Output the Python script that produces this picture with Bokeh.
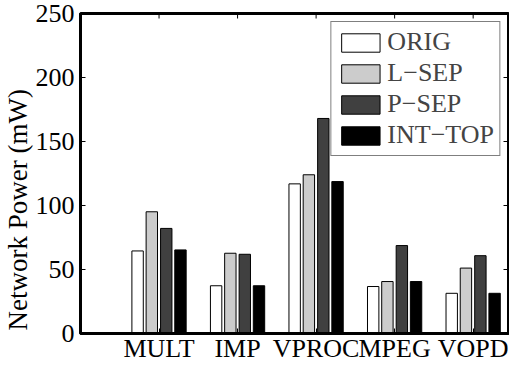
from math import pi
from bokeh.plotting import figure
from bokeh.models import (ColumnDataSource, FixedTicker, Range1d, Legend, LegendItem, Title)
from bokeh.transform import dodge
from bokeh.embed import file_html
from bokeh.resources import INLINE

categories = ["MULT", "IMP", "VPROC", "MPEG", "VOPD"]
orig    = [64.5, 37.3, 116.9, 36.7, 31.4]
l_sep   = [95.1, 62.7, 124.0, 40.6, 51.1]
p_sep   = [82.1, 61.9, 168.0, 68.7, 60.8]
int_top = [65.3, 37.3, 118.7, 40.6, 31.4]
series_names = ["ORIG", "L\u2212SEP", "P\u2212SEP", "INT\u2212TOP"]
series_colors = ["#ffffff", "#cccccc", "#404040", "#000000"]
y_ticks = [0, 50, 100, 150, 200, 250]
x_end = 5.45

FONT = "Liberation Serif"
FS = "26px"

idx = list(range(1, len(categories) + 1))
src = ColumnDataSource(dict(x=idx, orig=orig, l_sep=l_sep, p_sep=p_sep, int_top=int_top))

p = figure(width=509, height=366, output_backend="svg", toolbar_location=None,
           x_range=Range1d(0, x_end), y_range=Range1d(y_ticks[0], y_ticks[-1]),
           min_border_left=79, min_border_right=1, min_border_top=13, min_border_bottom=33)
p.background_fill_color = "white"
p.border_fill_color = "white"
p.grid.visible = False
p.outline_line_color = "black"
p.outline_line_width = 3

offsets = [-0.273, -0.092, 0.092, 0.273]
cols = ["orig", "l_sep", "p_sep", "int_top"]
items = []
for off, col, name, color in zip(offsets, cols, series_names, series_colors):
    r = p.vbar(x=dodge("x", off), top=col, width=0.145, bottom=0, source=src,
               fill_color=color, line_color="black", line_width=1)
    items.append(LegendItem(label=name, renderers=[r]))

# inward tick marks on the top and right edges of the box
p.ray(x=idx, y=[y_ticks[-1]] * len(idx), length=5, length_units="screen",
      angle=-pi / 2, line_color="black", line_width=1)
p.ray(x=[x_end] * len(y_ticks), y=y_ticks, length=5, length_units="screen",
      angle=pi, line_color="black", line_width=1)

for ax in (p.xaxis[0], p.yaxis[0]):
    ax.axis_line_width = 3
    ax.axis_line_color = "black"
    ax.major_tick_in = 5
    ax.major_tick_out = 0
    ax.minor_tick_line_color = None
    ax.major_tick_line_color = "black"
    ax.major_tick_line_width = 1
    ax.major_label_text_font = FONT
    ax.major_label_text_font_size = FS
    ax.major_label_text_color = "black"

p.xaxis[0].ticker = FixedTicker(ticks=idx)
p.xaxis[0].major_label_overrides = {i: c for i, c in zip(idx, categories)}
p.xaxis[0].major_label_standoff = 0
p.yaxis[0].ticker = FixedTicker(ticks=y_ticks)
p.yaxis[0].major_label_standoff = 6

legend = Legend(items=items, location="top_right", margin=8, padding=5, spacing=1,
                glyph_width=48, glyph_height=23, label_standoff=3,
                label_text_font=FONT, label_text_font_size=FS,
                border_line_color="black", border_line_width=1,
                background_fill_color="white", background_fill_alpha=1.0)
p.add_layout(legend)

ylab = Title(text="Network Power (mW)", align="left", offset=3, standoff=0,
             text_font=FONT, text_font_size="27px", text_font_style="normal",
             text_color="black")
p.add_layout(ylab, "left")

open("out.html", "w").write(file_html(p, INLINE))
